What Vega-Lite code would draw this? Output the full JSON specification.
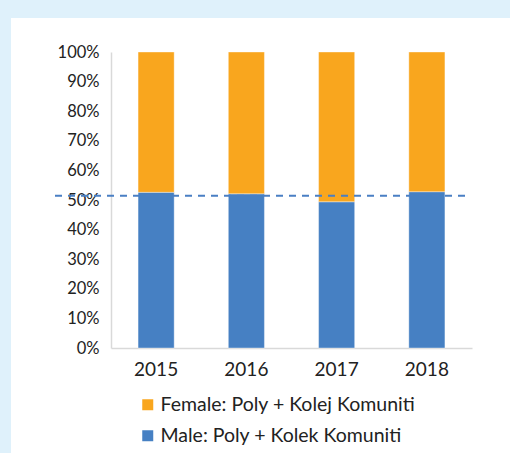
{
  "$schema": "https://vega.github.io/schema/vega-lite/v6.json",
  "width": 499,
  "height": 435,
  "autosize": {"type": "none"},
  "padding": {"left": 11, "top": 18, "right": 0, "bottom": 0},
  "background": "#dff1fb",
  "config": {"view": {"fill": "white", "stroke": null}, "font": "Lato"},
  "datasets": {
    "shares": [
      {"year": "2015", "series": "Male: Poly + Kolek Komuniti", "share": 0.526},
      {"year": "2015", "series": "Female: Poly + Kolej Komuniti", "share": 0.474},
      {"year": "2016", "series": "Male: Poly + Kolek Komuniti", "share": 0.521},
      {"year": "2016", "series": "Female: Poly + Kolej Komuniti", "share": 0.479},
      {"year": "2017", "series": "Male: Poly + Kolek Komuniti", "share": 0.494},
      {"year": "2017", "series": "Female: Poly + Kolej Komuniti", "share": 0.506},
      {"year": "2018", "series": "Male: Poly + Kolek Komuniti", "share": 0.528},
      {"year": "2018", "series": "Female: Poly + Kolej Komuniti", "share": 0.472}
    ],
    "reference": [
      {"from": 0, "to": 1, "level": 0.514}
    ]
  },
  "layer": [
    {
      "data": {"name": "shares"},
      "mark": {"type": "bar", "stroke": "white", "strokeWidth": 0.75, "strokeOpacity": 0.5},
      "encoding": {
        "x": {
          "field": "year",
          "type": "ordinal",
          "scale": {"range": [100, 461], "paddingInner": 0.6, "paddingOuter": 0.3},
          "axis": {"title": null, "labelAngle": 0, "offset": -105, "domainColor": "#d9d9d9", "domainWidth": 1.5, "ticks": false, "labelFontSize": 19, "labelPadding": 12, "labelColor": "#222222"}
        },
        "y": {
          "field": "share",
          "type": "quantitative",
          "stack": "zero",
          "scale": {"domain": [0, 1], "range": [330, 34]},
          "axis": {"title": null, "format": ".0%", "values": [0, 0.1, 0.2, 0.3, 0.4, 0.5, 0.6, 0.7, 0.8, 0.9, 1], "offset": -100, "grid": false, "ticks": false, "domainColor": "#d9d9d9", "domainWidth": 1.5, "labelFontSize": 16.5, "labelPadding": 12, "labelColor": "#222222"}
        },
        "color": {
          "field": "series",
          "type": "nominal",
          "scale": {"domain": ["Female: Poly + Kolej Komuniti", "Male: Poly + Kolek Komuniti"], "range": ["#f9a61e", "#4680c3"]},
          "legend": {"orient": "none", "legendX": 127, "legendY": 377, "title": null, "symbolType": "square", "symbolSize": 121, "symbolStrokeWidth": 0, "labelFontSize": 19.5, "labelColor": "#222222", "labelLimit": 400, "rowPadding": 10, "labelOffset": 3, "padding": 0}
        },
        "order": {"field": "series", "sort": "descending"}
      }
    },
    {
      "data": {"name": "reference"},
      "mark": {"type": "rule", "strokeDash": [7, 6], "strokeWidth": 2, "color": "#4a7fc4"},
      "encoding": {
        "x": {"field": "from", "type": "quantitative", "scale": {"domain": [0, 1], "range": [44, 455]}, "axis": null},
        "x2": {"field": "to"},
        "y": {"field": "level", "type": "quantitative"}
      }
    }
  ],
  "resolve": {"scale": {"x": "independent"}}
}
